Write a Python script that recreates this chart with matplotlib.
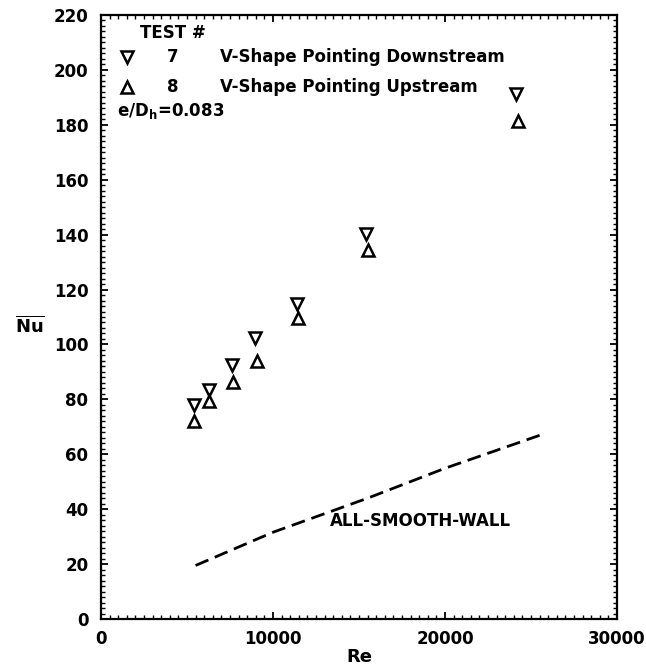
import matplotlib
matplotlib.use("Agg")
import matplotlib.pyplot as plt
from matplotlib.ticker import MultipleLocator

plt.rcParams['font.family'] = ['DejaVu Sans']
plt.rcParams['font.weight'] = 'bold'
plt.rcParams['mathtext.fontset'] = 'dejavusans'
plt.rcParams['mathtext.default'] = 'bf'

# Data
re_down = [5400, 6250, 7600, 8950, 11400, 15400, 24100]
nu_down = [77.8, 83.3, 92.4, 102.5, 114.9, 140.4, 191.3]
re_up = [5400, 6300, 7650, 9050, 11450, 15500, 24250]
nu_up = [72.0, 79.3, 86.2, 93.8, 109.8, 134.5, 181.5]
re_smooth = [5500, 10000, 15500, 20000, 25500]
nu_smooth = [19.5, 31.6, 44.0, 54.9, 66.9]

x_ticks = [0, 10000, 20000, 30000]
y_ticks = list(range(0, 221, 20))

fig = plt.figure(figsize=(6.46, 6.68), dpi=100)
L, R, T, B = 101, 617, 15, 619
W, H = 646, 668
ax = fig.add_axes([L / W, 1 - B / H, (R - L) / W, (B - T) / H])

mk = dict(linestyle='none', markersize=8, markerfacecolor='white',
          markeredgecolor='black', markeredgewidth=1.8)
ax.plot(re_down, nu_down, marker='v', **mk)
ax.plot(re_up, nu_up, marker='^', **mk)
ax.plot(re_smooth, nu_smooth, color='black', linewidth=2,
        linestyle=(0, (5, 2.5)))

ax.set_xlim(0, 30000)
ax.set_ylim(0, 220)
ax.set_xticks(x_ticks)
ax.set_yticks(y_ticks)
ax.xaxis.set_minor_locator(MultipleLocator(500))
ax.yaxis.set_minor_locator(MultipleLocator(2))
ax.tick_params(which='both', direction='in', top=True, right=True,
               labelsize=12, width=1.3)
ax.tick_params(which='major', length=5)
ax.tick_params(which='minor', length=3, width=1)
ax.tick_params(axis='x', pad=8)
ax.tick_params(axis='y', pad=9)
for lab in ax.get_xticklabels() + ax.get_yticklabels():
    lab.set_fontweight('bold')
for s in ax.spines.values():
    s.set_linewidth(1.6)

ax.set_xlabel('Re', fontsize=13, fontweight='bold', labelpad=0)
fig.text(30 / W, 1 - 326 / H, r'$\overline{Nu}$', fontsize=13,
         ha='center', va='center')

def fx(px):
    return (px - L) / (R - L)

def fy(py):
    return (B - py) / (B - T)

tk = dict(transform=ax.transAxes, fontsize=12, fontweight='bold', va='center')
ax.text(fx(140), fy(33), 'TEST #', ha='left', **tk)
ax.plot([fx(127)], [fy(57)], marker='v', transform=ax.transAxes, **mk)
ax.plot([fx(127)], [fy(87)], marker='^', transform=ax.transAxes, **mk)
ax.text(fx(173), fy(57), '7', ha='center', **tk)
ax.text(fx(173), fy(87), '8', ha='center', **tk)
ax.text(fx(220), fy(57), 'V-Shape Pointing Downstream', ha='left', **tk)
ax.text(fx(220), fy(87), 'V-Shape Pointing Upstream', ha='left', **tk)
ax.text(fx(117), fy(111), r'e/D$_h$=0.083', ha='left', **tk)
ax.text(13300, 35.6, 'ALL-SMOOTH-WALL', fontsize=12, fontweight='bold',
        ha='left', va='center')

fig.savefig('out.png', dpi=100)
